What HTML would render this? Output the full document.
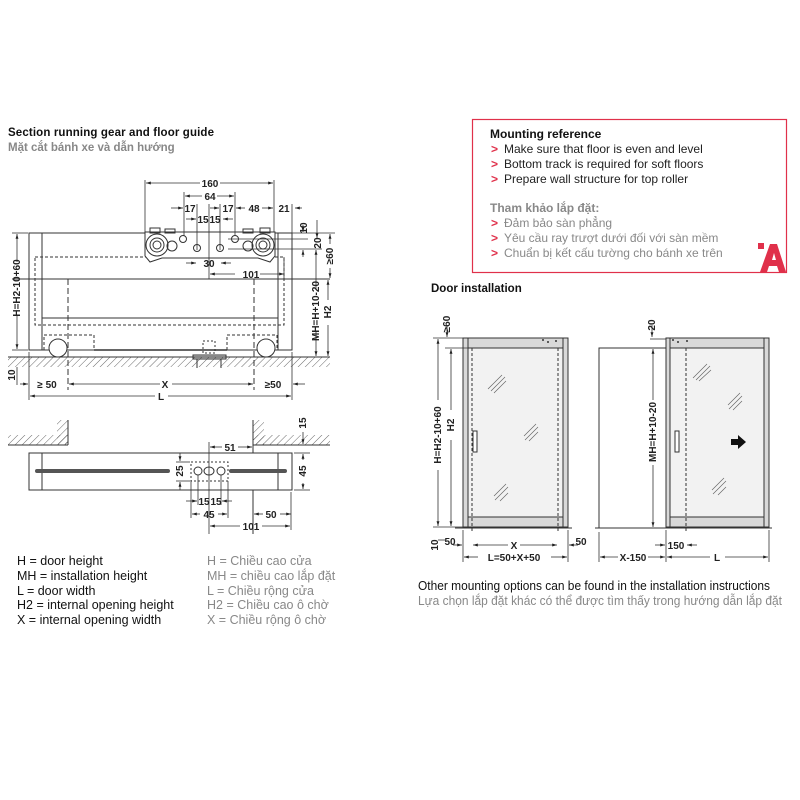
<!DOCTYPE html>
<html><head><meta charset="utf-8"><style>
html,body{margin:0;padding:0;background:#fff;}
svg{display:block;font-family:"Liberation Sans","Noto Sans CJK SC",sans-serif;}
.d{font-size:10px;font-weight:bold;fill:#222;}
</style></head><body>
<svg width="800" height="800" viewBox="0 0 800 800" xmlns="http://www.w3.org/2000/svg">
<defs>
<pattern id="h" width="5" height="5" patternUnits="userSpaceOnUse" patternTransform="rotate(45)"><line x1="0" y1="0" x2="0" y2="5" stroke="#444" stroke-width="0.8"/></pattern>
<marker id="a" viewBox="0 0 10 10" refX="10" refY="5" markerWidth="6" markerHeight="6" orient="auto-start-reverse"><path d="M0,2 L10,5 L0,8z" fill="#222"/></marker>
</defs>
<g stroke="#333" fill="none" stroke-width="1">
<rect x="29" y="233" width="263" height="117" fill="#fff"/>
<line x1="42" y1="233" x2="42" y2="350"/><line x1="278" y1="233" x2="278" y2="350"/>
<rect x="35" y="257" width="249" height="68" stroke-dasharray="3,2"/>
<line x1="12" y1="279" x2="330" y2="279"/>
<line x1="42" y1="318" x2="278" y2="318"/>
<rect x="44" y="335" width="50" height="15" stroke-dasharray="3,2"/>
<rect x="227" y="335" width="50" height="15" stroke-dasharray="3,2"/>
<line x1="94" y1="350" x2="227" y2="350" stroke-width="1.5"/>
<circle cx="58" cy="348" r="9" fill="#fff"/><circle cx="266" cy="348" r="9" fill="#fff"/>
<rect x="203" y="341" width="12" height="12" stroke-dasharray="2,2"/>
<rect x="193" y="355" width="33" height="4" fill="#ddd"/>
<line x1="197" y1="359" x2="197" y2="368"/><line x1="221" y1="359" x2="221" y2="368"/>
<rect x="8" y="357" width="322" height="10" fill="url(#h)" stroke="none"/>
<line x1="8" y1="357" x2="330" y2="357"/>
<line x1="68" y1="279" x2="68" y2="390" stroke-dasharray="6,3"/>
<line x1="254" y1="279" x2="254" y2="390" stroke-dasharray="6,3"/>
<path d="M145,232 L275,232 L275,256 L270,262 L258,258 L162,258 L150,262 L145,256z" fill="#fff"/>
<circle cx="157" cy="245" r="11"/><circle cx="157" cy="245" r="7"/><circle cx="157" cy="245" r="4"/>
<circle cx="263" cy="245" r="11"/><circle cx="263" cy="245" r="7"/><circle cx="263" cy="245" r="4"/>
<circle cx="172" cy="246" r="5"/><circle cx="248" cy="246" r="5"/>
<circle cx="183" cy="239" r="3.5"/><circle cx="235" cy="239" r="3.5"/>
<circle cx="197" cy="248" r="3.5"/><circle cx="220" cy="248" r="3.5"/>
<rect x="150" y="228" width="10" height="5"/><rect x="165" y="229" width="10" height="4"/><rect x="243" y="229" width="10" height="4"/><rect x="260" y="228" width="10" height="5"/>
<g stroke-width="0.8">
<line x1="145" y1="180" x2="145" y2="232"/><line x1="274" y1="180" x2="274" y2="232"/>
<line x1="146" y1="183" x2="200" y2="183" marker-start="url(#a)"/><line x1="220" y1="183" x2="273" y2="183" marker-end="url(#a)"/>
<line x1="184" y1="192" x2="184" y2="236"/><line x1="235" y1="192" x2="235" y2="236"/>
<line x1="185" y1="196" x2="202" y2="196" marker-start="url(#a)"/><line x1="217" y1="196" x2="234" y2="196" marker-end="url(#a)"/>
<line x1="197" y1="204" x2="197" y2="250"/><line x1="220" y1="204" x2="220" y2="250"/><line x1="209" y1="204" x2="209" y2="279"/>
<line x1="171" y1="208" x2="183" y2="208" marker-end="url(#a)"/><line x1="210" y1="208" x2="219" y2="208" marker-end="url(#a)"/>
<line x1="236" y1="208" x2="245" y2="208" marker-start="url(#a)"/><line x1="262" y1="208" x2="273" y2="208" marker-end="url(#a)"/>
<line x1="292" y1="204" x2="292" y2="233"/><line x1="295" y1="208" x2="302" y2="208" marker-start="url(#a)"/>
<line x1="186" y1="219" x2="196" y2="219" marker-end="url(#a)"/><line x1="223" y1="219" x2="233" y2="219" marker-start="url(#a)"/>
<line x1="186" y1="263" x2="196" y2="263" marker-end="url(#a)"/><line x1="221" y1="263" x2="231" y2="263" marker-start="url(#a)"/>
<line x1="210" y1="274" x2="235" y2="274" marker-start="url(#a)"/><line x1="260" y1="274" x2="284" y2="274" marker-end="url(#a)"/>
<line x1="284" y1="257" x2="284" y2="279"/>
<line x1="228" y1="239" x2="308" y2="239"/><line x1="228" y1="249" x2="322" y2="249"/>
<line x1="275" y1="233" x2="335" y2="233"/>
<line x1="303" y1="225" x2="303" y2="232" marker-end="url(#a)"/><line x1="303" y1="250" x2="303" y2="257" marker-start="url(#a)"/>
<line x1="317" y1="220" x2="317" y2="238" marker-end="url(#a)"/>
<line x1="330" y1="234" x2="330" y2="244" marker-start="url(#a)"/><line x1="330" y1="268" x2="330" y2="278" marker-end="url(#a)"/>
<line x1="316" y1="250" x2="316" y2="290" marker-start="url(#a)"/><line x1="316" y1="332" x2="316" y2="356" marker-end="url(#a)"/>
<line x1="328" y1="280" x2="328" y2="300" marker-start="url(#a)"/><line x1="328" y1="325" x2="328" y2="356" marker-end="url(#a)"/>
<line x1="12" y1="233" x2="28" y2="233"/><line x1="12" y1="350" x2="28" y2="350"/>
<line x1="17" y1="234" x2="17" y2="262" marker-start="url(#a)"/><line x1="17" y1="315" x2="17" y2="349" marker-end="url(#a)"/>
<line x1="17" y1="367" x2="17" y2="385"/>
<line x1="29" y1="352" x2="29" y2="400"/><line x1="292" y1="352" x2="292" y2="400"/>
<line x1="20" y1="384" x2="28" y2="384" marker-end="url(#a)"/><line x1="69" y1="384" x2="160" y2="384" marker-start="url(#a)"/><line x1="172" y1="384" x2="253" y2="384" marker-end="url(#a)"/>
<line x1="293" y1="384" x2="305" y2="384" marker-start="url(#a)"/>
<line x1="30" y1="396" x2="155" y2="396" marker-start="url(#a)"/><line x1="168" y1="396" x2="291" y2="396" marker-end="url(#a)"/>
</g>
<rect x="8" y="435" width="60" height="10" fill="url(#h)" stroke="none"/><line x1="8" y1="445" x2="68" y2="445"/>
<rect x="57" y="420" width="11" height="25" fill="url(#h)" stroke="none"/><line x1="68" y1="420" x2="68" y2="445"/>
<rect x="253" y="420" width="11" height="25" fill="url(#h)" stroke="none"/><rect x="253" y="435" width="77" height="10" fill="url(#h)" stroke="none"/>
<line x1="253" y1="420" x2="253" y2="534"/><line x1="253" y1="445" x2="330" y2="445"/>
<rect x="29" y="453" width="263" height="37" fill="#fff"/>
<line x1="42" y1="453" x2="42" y2="490"/><line x1="278" y1="453" x2="278" y2="490"/>
<line x1="37" y1="471" x2="168" y2="471" stroke="#555" stroke-width="4" stroke-linecap="round"/>
<line x1="231" y1="471" x2="285" y2="471" stroke="#555" stroke-width="4" stroke-linecap="round"/>
<rect x="191" y="462" width="37" height="19" stroke-dasharray="2,2" fill="#fff"/>
<circle cx="198" cy="471" r="4"/><ellipse cx="209" cy="471" rx="5" ry="4"/><circle cx="221" cy="471" r="4"/>
<g stroke-width="0.8">
<line x1="209" y1="442" x2="209" y2="534"/>
<line x1="210" y1="447" x2="222" y2="447" marker-start="url(#a)"/><line x1="238" y1="447" x2="252" y2="447" marker-end="url(#a)"/>
<line x1="176" y1="462" x2="190" y2="462"/><line x1="176" y1="481" x2="190" y2="481"/>
<line x1="180" y1="453" x2="180" y2="461" marker-end="url(#a)"/><line x1="180" y1="482" x2="180" y2="490" marker-start="url(#a)"/>
<line x1="198" y1="475" x2="198" y2="505"/><line x1="221" y1="475" x2="221" y2="505"/><line x1="191" y1="481" x2="191" y2="518"/><line x1="228" y1="481" x2="228" y2="518"/>
<line x1="186" y1="501" x2="197" y2="501" marker-end="url(#a)"/><line x1="222" y1="501" x2="232" y2="501" marker-start="url(#a)"/>
<line x1="192" y1="514" x2="200" y2="514" marker-start="url(#a)"/><line x1="218" y1="514" x2="227" y2="514" marker-end="url(#a)"/>
<line x1="254" y1="514" x2="263" y2="514" marker-start="url(#a)"/><line x1="280" y1="514" x2="291" y2="514" marker-end="url(#a)"/>
<line x1="291" y1="492" x2="291" y2="530"/>
<line x1="210" y1="526" x2="240" y2="526" marker-start="url(#a)"/><line x1="262" y1="526" x2="290" y2="526" marker-end="url(#a)"/>
<line x1="294" y1="453" x2="310" y2="453"/><line x1="294" y1="490" x2="310" y2="490"/>
<line x1="303" y1="432" x2="303" y2="444" marker-end="url(#a)"/>
<line x1="303" y1="454" x2="303" y2="460" marker-start="url(#a)"/><line x1="303" y1="483" x2="303" y2="489" marker-end="url(#a)"/>
</g>
<rect x="463" y="338" width="105" height="189" fill="#d9d9d9"/>
<rect x="468" y="348" width="95" height="169" fill="#f2f2f2"/>
<line x1="468" y1="338" x2="468" y2="527"/><line x1="563" y1="338" x2="563" y2="527"/>
<line x1="472" y1="348" x2="472" y2="532" stroke-dasharray="3,2"/><line x1="558" y1="348" x2="558" y2="532" stroke-dasharray="3,2"/>
<line x1="472" y1="348" x2="558" y2="348" stroke-dasharray="3,2"/>
<line x1="455" y1="528" x2="572" y2="528"/>
<rect x="473" y="431" width="4" height="21" fill="#fff"/>
<g stroke="#666" stroke-width="0.7"><path d="M488,389 L502,375 M491,391 L505,377 M494,393 L506,381"/><path d="M524,436 L536,424 M525,440 L538,427 M529,441 L538,432"/><path d="M494,496 L506,484 M495,500 L508,487 M500,501 L508,493"/></g>
<g stroke-width="0.8">
<line x1="433" y1="338" x2="463" y2="338"/><line x1="445" y1="348" x2="468" y2="348"/><line x1="433" y1="527" x2="463" y2="527"/>
<line x1="447" y1="325" x2="447" y2="337" marker-end="url(#a)"/>
<line x1="438" y1="339" x2="438" y2="400" marker-start="url(#a)"/><line x1="438" y1="470" x2="438" y2="526" marker-end="url(#a)"/>
<line x1="451" y1="349" x2="451" y2="410" marker-start="url(#a)"/><line x1="451" y1="440" x2="451" y2="526" marker-end="url(#a)"/>
<line x1="438" y1="540" x2="445" y2="540"/>
<line x1="463" y1="530" x2="463" y2="562"/><line x1="568" y1="530" x2="568" y2="562"/>
<line x1="453" y1="545" x2="462" y2="545" marker-end="url(#a)"/><line x1="569" y1="545" x2="578" y2="545" marker-start="url(#a)"/>
<line x1="473" y1="545" x2="508" y2="545" marker-start="url(#a)"/><line x1="520" y1="545" x2="557" y2="545" marker-end="url(#a)"/>
<line x1="464" y1="557" x2="478" y2="557" marker-start="url(#a)"/><line x1="551" y1="557" x2="567" y2="557" marker-end="url(#a)"/>
</g>
<rect x="599" y="348" width="67" height="180" fill="#fff"/>
<rect x="666" y="338" width="103" height="189" fill="#d9d9d9"/>
<rect x="670" y="348" width="94" height="169" fill="#f2f2f2"/>
<line x1="670" y1="338" x2="670" y2="527"/><line x1="764" y1="338" x2="764" y2="527"/>
<line x1="686" y1="348" x2="686" y2="532" stroke-dasharray="3,2"/>
<line x1="670" y1="348" x2="686" y2="348" stroke-dasharray="3,2"/>
<line x1="595" y1="528" x2="772" y2="528"/>
<rect x="675" y="431" width="4" height="21" fill="#fff"/>
<path d="M731,439 h7 v-4 l8,7 l-8,7 v-4 h-7z" fill="#111" stroke="none"/>
<g stroke="#666" stroke-width="0.7"><path d="M693,378 L707,364 M696,380 L710,366 M699,381 L711,370"/><path d="M728,405 L740,393 M729,409 L742,396 M733,410 L742,401"/><path d="M712,490 L724,478 M713,494 L726,481 M718,495 L726,487"/></g>
<g stroke-width="0.8">
<line x1="650" y1="339" x2="666" y2="339"/>
<line x1="652" y1="325" x2="652" y2="337" marker-end="url(#a)"/>
<line x1="653" y1="349" x2="653" y2="400" marker-start="url(#a)"/><line x1="653" y1="465" x2="653" y2="527" marker-end="url(#a)"/>
<line x1="599" y1="532" x2="599" y2="562"/><line x1="666" y1="530" x2="666" y2="562"/><line x1="769" y1="530" x2="769" y2="562"/>
<line x1="655" y1="545" x2="665" y2="545" marker-end="url(#a)"/><line x1="687" y1="545" x2="697" y2="545" marker-start="url(#a)"/>
<line x1="600" y1="557" x2="618" y2="557" marker-start="url(#a)"/><line x1="648" y1="557" x2="665" y2="557" marker-end="url(#a)"/>
<line x1="667" y1="557" x2="710" y2="557" marker-start="url(#a)"/><line x1="725" y1="557" x2="768" y2="557" marker-end="url(#a)"/>
</g>
<rect x="472.5" y="119.5" width="314" height="153" stroke="#e0304a" stroke-width="1.2"/>
</g>
<path d="M758,243 h6 v6 h-6z M770,244 h7 l9,28 h-7 l-2,-6 h-8 l-2,6 h-7z" fill="#e0304a"/>
<path d="M772,260 h4 l-2,-7z" fill="#fff"/>
<g fill="#333"><circle cx="543" cy="340" r="1"/><circle cx="548" cy="342" r="1"/><circle cx="556" cy="341" r="1"/><circle cx="673" cy="340" r="1"/><circle cx="678" cy="342" r="1"/><circle cx="687" cy="341" r="1"/></g>
<text x="8" y="136" font-size="11.5" font-weight="bold" fill="#111" textLength="206">Section running gear and floor guide</text>
<text x="8" y="151" font-size="11.5" font-weight="bold" fill="#888">Mặt cắt bánh xe và dẫn hướng</text>
<g class="d" text-anchor="middle">
<text x="210" y="187">160</text><text x="210" y="200">64</text>
<text x="190" y="212">17</text><text x="228" y="212">17</text><text x="254" y="212">48</text><text x="284" y="212">21</text>
<text x="203" y="223">15</text><text x="215" y="223">15</text>
<text x="209" y="267">30</text><text x="251" y="278">101</text>
<text x="165" y="388">X</text><text x="47" y="388">≥ 50</text><text x="273" y="388">≥50</text><text x="161" y="400">L</text>
<text x="230" y="451">51</text><text x="204" y="505">15</text><text x="216" y="505">15</text><text x="209" y="518">45</text><text x="271" y="518">50</text><text x="251" y="530">101</text>
<text x="514" y="549">X</text><text x="514" y="561">L=50+X+50</text><text x="450" y="545">50</text><text x="581" y="545">50</text>
<text x="676" y="549">150</text><text x="633" y="561">X-150</text><text x="717" y="561">L</text>
</g>
<g class="d" text-anchor="middle">
<text transform="translate(20,288) rotate(-90)">H=H2-10+60</text>
<text transform="translate(307,228) rotate(-90)">10</text>
<text transform="translate(321,243) rotate(-90)">20</text>
<text transform="translate(333,256) rotate(-90)">≥60</text>
<text transform="translate(319,311) rotate(-90)">MH=H+10-20</text>
<text transform="translate(331,312) rotate(-90)">H2</text>
<text transform="translate(15,375) rotate(-90)">10</text>
<text transform="translate(183,471) rotate(-90)">25</text>
<text transform="translate(306,423) rotate(-90)">15</text>
<text transform="translate(306,471) rotate(-90)">45</text>
<text transform="translate(450,324) rotate(-90)">≥60</text>
<text transform="translate(441,435) rotate(-90)">H=H2-10+60</text>
<text transform="translate(454,425) rotate(-90)">H2</text>
<text transform="translate(438,545) rotate(-90)">10</text>
<text transform="translate(655,325) rotate(-90)">20</text>
<text transform="translate(656,432) rotate(-90)">MH=H+10-20</text>
</g>
<text x="431" y="292" font-size="11.5" font-weight="bold" fill="#111">Door installation</text>
<g font-size="12">
<text x="490" y="138" font-weight="bold" fill="#111">Mounting reference</text>
<text x="504" y="153" fill="#222">Make sure that floor is even and level</text>
<text x="504" y="168" fill="#222">Bottom track is required for soft floors</text>
<text x="504" y="183" fill="#222">Prepare wall structure for top roller</text>
<text x="490" y="212" font-weight="bold" fill="#888">Tham khảo lắp đặt:</text>
<text x="504" y="227" fill="#888">Đảm bảo sàn phẳng</text>
<text x="504" y="242" fill="#888">Yêu cầu ray trượt dưới đối với sàn mềm</text>
<text x="504" y="257" fill="#888">Chuẩn bị kết cấu tường cho bánh xe trên</text>
<g fill="#e0304a" font-weight="bold"><text x="491" y="153">&gt;</text><text x="491" y="168">&gt;</text><text x="491" y="183">&gt;</text><text x="491" y="227">&gt;</text><text x="491" y="242">&gt;</text><text x="491" y="257">&gt;</text></g>
</g>
<g font-size="12.5">
<text x="17" y="565" fill="#111">H = door height</text>
<text x="17" y="580" fill="#111">MH = installation height</text>
<text x="17" y="595" fill="#111">L = door width</text>
<text x="17" y="609" fill="#111">H2 = internal opening height</text>
<text x="17" y="624" fill="#111">X = internal opening width</text>
<text x="207" y="565" fill="#888">H = Chiều cao cửa</text>
<text x="207" y="580" fill="#888">MH = chiều cao lắp đặt</text>
<text x="207" y="595" fill="#888">L = Chiều rộng cửa</text>
<text x="207" y="609" fill="#888">H2 = Chiều cao ô chờ</text>
<text x="207" y="624" fill="#888">X = Chiều rộng ô chờ</text>
<text x="418" y="590" fill="#111" textLength="352" lengthAdjust="spacingAndGlyphs">Other mounting options can be found in the installation instructions</text>
<text x="418" y="605" fill="#888" textLength="364" lengthAdjust="spacingAndGlyphs">Lựa chọn lắp đặt khác có thể được tìm thấy trong hướng dẫn lắp đặt</text>
</g>
</svg>
</body></html>
